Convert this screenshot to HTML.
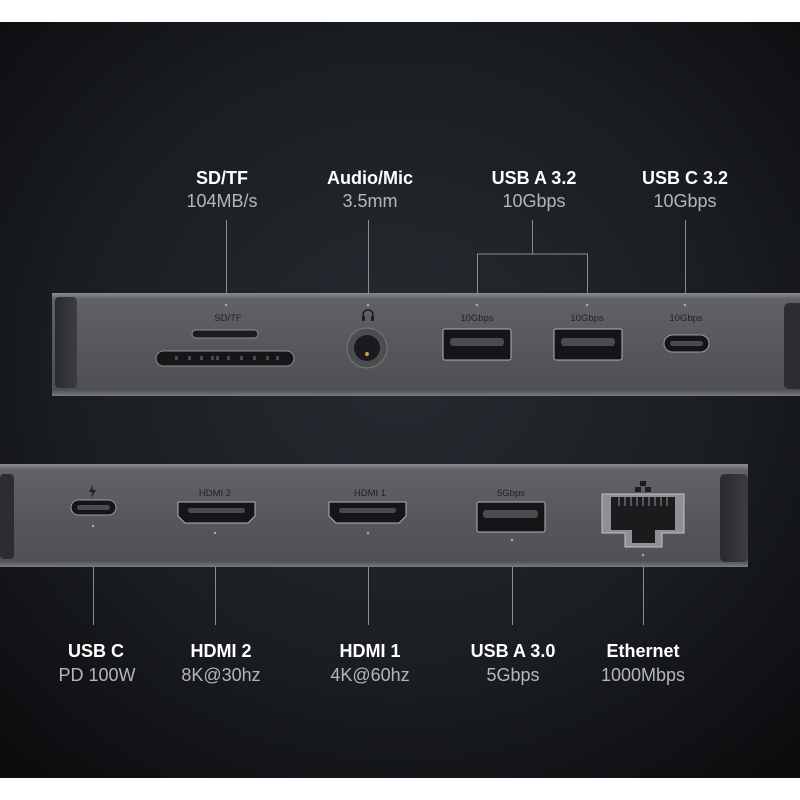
<!DOCTYPE html>
<html><head><meta charset="utf-8"><style>
html,body{margin:0;padding:0;background:#fff}
svg{display:block}
text{font-family:"Liberation Sans",sans-serif}
.b{font-weight:bold;fill:#fff;font-size:18px}
.g{fill:#b4b6ba;font-size:18px}
.s{fill:#222326;font-size:9.5px}
</style></head><body>
<svg width="800" height="800" viewBox="0 0 800 800" xmlns="http://www.w3.org/2000/svg">
<defs>
<radialGradient id="bg" cx="0.5" cy="0.45" r="0.7">
<stop offset="0" stop-color="#272b31"/><stop offset="0.6" stop-color="#1a1d21"/><stop offset="1" stop-color="#0c0d0f"/>
</radialGradient>
<linearGradient id="dev" x1="0" y1="0" x2="0" y2="1">
<stop offset="0" stop-color="#8a8c90"/><stop offset="0.06" stop-color="#606266"/><stop offset="0.5" stop-color="#56585c"/><stop offset="0.94" stop-color="#4e5054"/><stop offset="1" stop-color="#7a7c80"/>
</linearGradient>
<linearGradient id="cap" x1="0" y1="0" x2="1" y2="0">
<stop offset="0" stop-color="#2a2b2e"/><stop offset="1" stop-color="#3c3d41"/>
</linearGradient>
</defs>
<rect width="800" height="800" fill="#fff"/>
<rect y="22" width="800" height="756" fill="url(#bg)"/>

<g text-anchor="middle">
<text class="b" x="222" y="184">SD/TF</text><text class="g" x="222" y="207">104MB/s</text>
<text class="b" x="370" y="184">Audio/Mic</text><text class="g" x="370" y="207">3.5mm</text>
<text class="b" x="534" y="184">USB A 3.2</text><text class="g" x="534" y="207">10Gbps</text>
<text class="b" x="685" y="184">USB C 3.2</text><text class="g" x="685" y="207">10Gbps</text>
</g>
<g stroke="#8a8c90" stroke-width="1" fill="none">
<path d="M226.5 220V305M368.5 220V305M532.5 220V254M477.5 305V254H587.5V305M685.5 220V305"/>
<path d="M93.5 537V625M215.5 537V625M368.5 537V625M512.5 537V625M643.5 553V625"/>
</g>

<rect x="52" y="293" width="760" height="103" fill="url(#dev)"/>
<rect x="55" y="297" width="22" height="91" rx="4" fill="url(#cap)"/>
<rect x="784" y="303" width="20" height="86" rx="5" fill="#2c2d30"/>
<g fill="#a8aaae"><circle cx="226" cy="305" r="1.2"/><circle cx="368" cy="305" r="1.2"/><circle cx="477" cy="305" r="1.2"/><circle cx="587" cy="305" r="1.2"/><circle cx="685" cy="305" r="1.2"/></g>
<text class="s" x="228" y="321" text-anchor="middle">SD/TF</text>
<rect x="192" y="330" width="66" height="8" rx="4" fill="#1a1b1d" stroke="#8d8f93"/>
<rect x="156" y="351" width="138" height="15" rx="7.5" fill="#151618" stroke="#8d8f93"/>
<g fill="#4a4b4e"><rect x="175" y="356" width="3" height="4"/><rect x="188" y="356" width="3" height="4"/><rect x="200" y="356" width="3" height="4"/><rect x="211" y="356" width="3" height="4"/><rect x="216" y="356" width="3" height="4"/><rect x="227" y="356" width="3" height="4"/><rect x="240" y="356" width="3" height="4"/><rect x="253" y="356" width="3" height="4"/><rect x="266" y="356" width="3" height="4"/><rect x="276" y="356" width="3" height="4"/></g>
<path d="M363 319v-4a5 5 0 0 1 10 0v4" fill="none" stroke="#1e1f21" stroke-width="1.6"/>
<rect x="362" y="316" width="3" height="5" rx="1" fill="#1e1f21"/><rect x="371" y="316" width="3" height="5" rx="1" fill="#1e1f21"/>
<circle cx="367" cy="348" r="20" fill="#4b4d51" stroke="#77797d"/>
<circle cx="367" cy="348" r="13" fill="#1a1b1d"/>
<circle cx="367" cy="354" r="2" fill="#c9a050"/>
<g class="s" text-anchor="middle"><text x="477" y="321">10Gbps</text><text x="587" y="321">10Gbps</text><text x="686" y="321">10Gbps</text></g>
<rect x="443" y="329" width="68" height="31" rx="2" fill="#141517" stroke="#b0b2b6"/>
<rect x="450" y="338" width="54" height="8" rx="3" fill="#4a4b4f"/>
<rect x="554" y="329" width="68" height="31" rx="2" fill="#141517" stroke="#b0b2b6"/>
<rect x="561" y="338" width="54" height="8" rx="3" fill="#4a4b4f"/>
<rect x="664" y="335" width="45" height="17" rx="8.5" fill="#141517" stroke="#9a9ca0"/>
<rect x="670" y="341" width="33" height="5" rx="2.5" fill="#4a4b4f"/>

<rect x="-10" y="464" width="758" height="103" fill="url(#dev)"/>
<rect x="0" y="474" width="14" height="85" rx="4" fill="#2c2d30"/>
<rect x="720" y="474" width="28" height="88" rx="5" fill="url(#cap)"/>
<g fill="#a8aaae"><circle cx="93" cy="526" r="1.2"/><circle cx="215" cy="533" r="1.2"/><circle cx="368" cy="533" r="1.2"/><circle cx="512" cy="540" r="1.2"/><circle cx="643" cy="555" r="1.2"/></g>
<path d="M93 485L89 492H92.5L91 498L96 490H92.5Z" fill="#1e1f21"/>
<rect x="71" y="500" width="45" height="15" rx="7.5" fill="#141517" stroke="#9a9ca0"/>
<rect x="77" y="505" width="33" height="5" rx="2.5" fill="#4a4b4f"/>
<g class="s" text-anchor="middle"><text x="215" y="496">HDMI 2</text><text x="370" y="496">HDMI 1</text><text x="511" y="496">5Gbps</text></g>
<path d="M178 502H255V516L248 523H185L178 516Z" fill="#141517" stroke="#b0b2b6"/>
<rect x="188" y="508" width="57" height="5" rx="2.5" fill="#4a4b4f"/>
<path d="M329 502H406V516L399 523H336L329 516Z" fill="#141517" stroke="#b0b2b6"/>
<rect x="339" y="508" width="57" height="5" rx="2.5" fill="#4a4b4f"/>
<rect x="477" y="502" width="68" height="30" rx="2" fill="#141517" stroke="#b0b2b6"/>
<rect x="483" y="510" width="55" height="8" rx="3" fill="#4a4b4f"/>
<path d="M602 494H684V533H662V547H625V533H602Z" fill="#8e9094" stroke="#c0c2c6"/>
<path d="M611 497H675V530H655V543H632V530H611Z" fill="#1a1b1d"/>
<g fill="#55575b"><rect x="618" y="497" width="2" height="9"/><rect x="624" y="497" width="2" height="9"/><rect x="630" y="497" width="2" height="9"/><rect x="636" y="497" width="2" height="9"/><rect x="642" y="497" width="2" height="9"/><rect x="648" y="497" width="2" height="9"/><rect x="654" y="497" width="2" height="9"/><rect x="660" y="497" width="2" height="9"/><rect x="666" y="497" width="2" height="9"/></g>
<g fill="#1c1d1f"><rect x="640" y="481" width="6" height="5"/><rect x="635" y="487" width="6" height="5"/><rect x="645" y="487" width="6" height="5"/></g>

<g text-anchor="middle">
<text class="b" x="96" y="657">USB C</text><text class="g" x="97" y="681">PD 100W</text>
<text class="b" x="221" y="657">HDMI 2</text><text class="g" x="221" y="681">8K@30hz</text>
<text class="b" x="370" y="657">HDMI 1</text><text class="g" x="370" y="681">4K@60hz</text>
<text class="b" x="513" y="657">USB A 3.0</text><text class="g" x="513" y="681">5Gbps</text>
<text class="b" x="643" y="657">Ethernet</text><text class="g" x="643" y="681">1000Mbps</text>
</g>
</svg>
</body></html>
